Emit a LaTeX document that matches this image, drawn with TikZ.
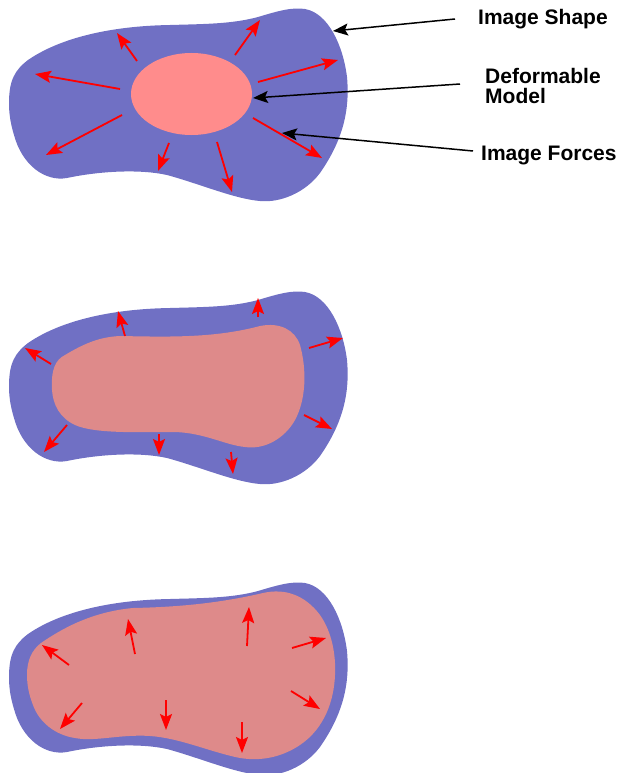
\documentclass[tikz,border=0pt]{standalone}
\usepackage{fontspec}
\setmainfont{Liberation Sans}
\usetikzlibrary{arrows.meta}
\definecolor{blobblue}{RGB}{112,112,196}
\definecolor{modelpink}{RGB}{255,140,140}
\definecolor{innerpink}{RGB}{222,138,138}
\def\blobpath{(9,103) .. controls (9,80) and (15,70) .. (28,60)
  .. controls (60,38) and (110,26) .. (170,25)
  .. controls (205,24) and (232,24) .. (258,17)
  .. controls (278,11) and (292,7) .. (305,9)
  .. controls (328,13) and (343,45) .. (347,77)
  .. controls (350,110) and (343,140) .. (320,173)
  .. controls (305,193) and (280,203) .. (260,201)
  .. controls (235,199) and (200,184) .. (167,175)
  .. controls (140,169) and (100,171) .. (67,178)
  .. controls (45,182) and (22,165) .. (14,135)
  .. controls (10,122) and (9,112) .. (9,103) -- cycle}
\def\midinner{(52,390) .. controls (51,370) and (55,360) .. (65,355)
  .. controls (85,343) and (100,337) .. (120,336)
  .. controls (170,337) and (215,338) .. (260,326)
  .. controls (280,322) and (295,330) .. (300,345)
  .. controls (307,370) and (306,400) .. (295,420)
  .. controls (285,438) and (265,450) .. (245,447)
  .. controls (225,445) and (205,433) .. (175,432)
  .. controls (140,432) and (95,434) .. (75,425)
  .. controls (60,418) and (53,405) .. (52,390) -- cycle}
\def\botinner{(27,675) .. controls (27,660) and (32,650) .. (41,643)
  .. controls (60,630) and (90,612) .. (133,608)
  .. controls (180,607) and (220,603) .. (263,593)
  .. controls (285,588) and (305,595) .. (320,615)
  .. controls (332,632) and (336,655) .. (335,675)
  .. controls (334,700) and (325,728) .. (300,745)
  .. controls (285,755) and (265,762) .. (240,758)
  .. controls (210,752) and (180,738) .. (150,736)
  .. controls (120,734) and (95,742) .. (75,738)
  .. controls (55,735) and (39,722) .. (33,705)
  .. controls (29,695) and (27,685) .. (27,675) -- cycle}
\tikzset{
  redarrow/.style={red, line width=1.8pt, -{Stealth[length=16pt,width=12pt,inset=3pt]}},
  callout/.style={black, line width=1.5pt, -{Stealth[length=15pt,width=12pt,inset=3pt]}},
  lbl/.style={font=\fontsize{21}{20}\selectfont\bfseries, inner sep=0pt, align=left}
}
\begin{document}
\begin{tikzpicture}[x=1pt,y=-1pt]
\useasboundingbox (0,0) rectangle (619,773);
% ---------- top panel ----------
\fill[blobblue] \blobpath;
\fill[modelpink] (191.5,94) ellipse [x radius=60.5, y radius=41];
\draw[redarrow] (137,61) -- (117,33);
\draw[redarrow] (235,55) -- (260,20);
\draw[redarrow] (258,82) -- (338,60);
\draw[redarrow] (120,89) -- (35,74);
\draw[redarrow] (122,115) -- (46,155);
\draw[redarrow] (169,143) -- (158,171);
\draw[redarrow] (217,142) -- (232,192);
\draw[redarrow] (253,118) -- (322,158);
% labels
\node[lbl, anchor=base west] (shape) at (478,25) {Image Shape};
\node[lbl, anchor=base west] (model) at (485,103) {Deformable\\Model};
\node[lbl, anchor=base west] (forces) at (481,160) {Image Forces};
\coordinate (shapetip) at (333,31);
\coordinate (modeltip) at (253,98);
\coordinate (forcestip) at (282,133);
\draw[callout] (455,19) -- (shapetip);
\draw[callout] (460,84) -- (modeltip);
\draw[callout] (473,151) -- (forcestip);
% ---------- middle panel ----------
\begin{scope}[shift={(0,283)}]
\fill[blobblue] \blobpath;
\end{scope}
\fill[innerpink] \midinner;
\draw[redarrow] (51,364) -- (25,348);
\draw[redarrow] (125,336) -- (118,311);
\draw[redarrow] (258,317) -- (258,298);
\draw[redarrow] (309,348) -- (343,338);
\draw[redarrow] (304,415) -- (332,429);
\draw[redarrow] (67,425) -- (44,452);
\draw[redarrow] (159,434) -- (159,455);
\draw[redarrow] (231,452) -- (233,474);
% ---------- bottom panel ----------
\begin{scope}[shift={(0,574)}]
\fill[blobblue] \blobpath;
\end{scope}
\fill[innerpink] \botinner;
\draw[redarrow] (69,665) -- (42,645);
\draw[redarrow] (135,654) -- (128,619);
\draw[redarrow] (247,646) -- (249,607);
\draw[redarrow] (292,648) -- (326,638);
\draw[redarrow] (291,691) -- (320,709);
\draw[redarrow] (82,703) -- (60,729);
\draw[redarrow] (166,700) -- (166,730);
\draw[redarrow] (242,722) -- (242,753);
\end{tikzpicture}
\end{document}
